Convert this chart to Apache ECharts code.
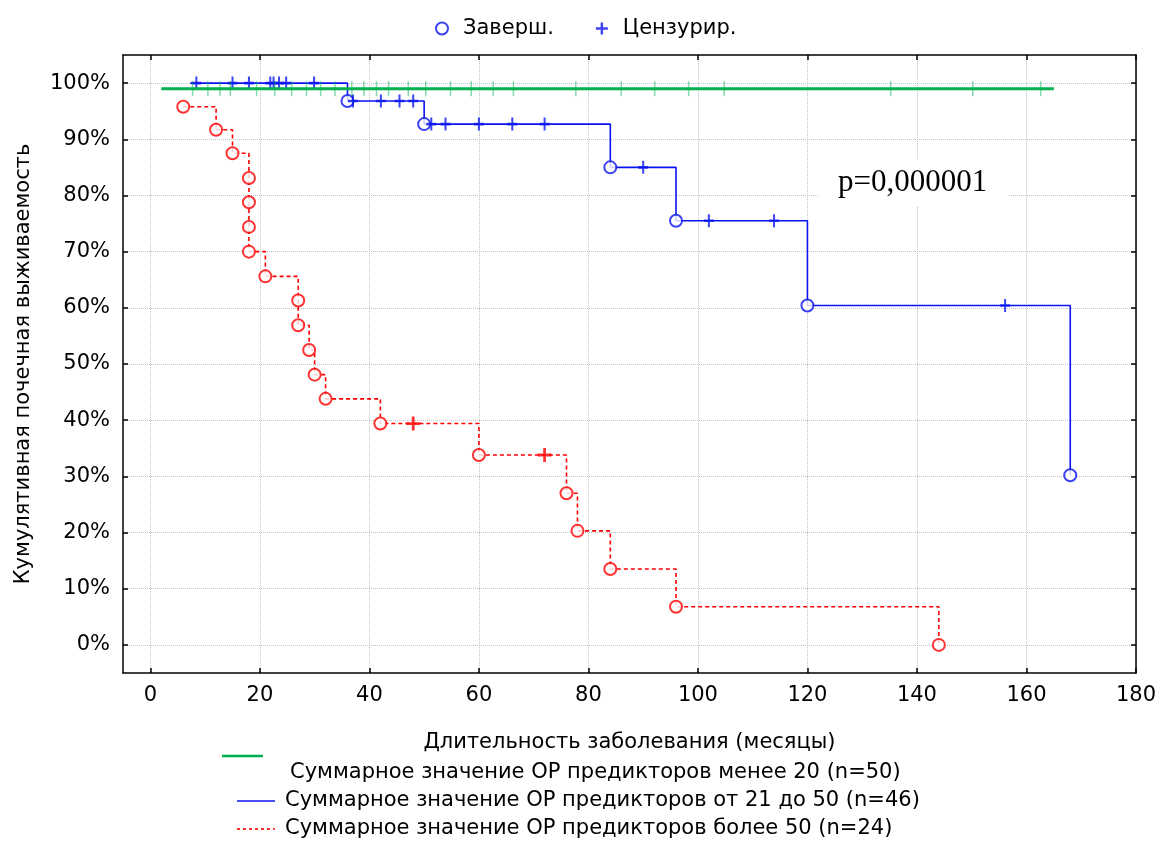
<!DOCTYPE html>
<html>
<head>
<meta charset="utf-8">
<script src="https://cdn.jsdelivr.net/npm/echarts@6/dist/echarts.min.js"></script>
<style>
  html, body { margin: 0; padding: 0; background: #fff; }
  #chart { width: 1159px; height: 846px; }
</style>
</head>
<body>
<div id="chart"></div>
<script>
// оси
const xTicks = [0, 20, 40, 60, 80, 100, 120, 140, 160, 180];
const yTicks = [0, 10, 20, 30, 40, 50, 60, 70, 80, 90, 100];

// группа < 20 (зелёная)
const greenStartEnd = [2, 165];
const greenLevel = 99;
const greenCensTimes = [7.7, 10.5, 12.7, 14.6, 19.4, 22.7, 25.8, 28.5, 31.1, 33.7, 36.8, 39.0, 41.3, 43.5,
  47.1, 50.3, 54.8, 58.6, 62.6, 66.3, 77.7, 86.0, 92.1, 98.3, 104.8, 135.2, 150.2, 162.6];

// группа 21-50 (синяя)
const blueStart = [7.3, 100];
const blueEventTimes = [36, 50, 84, 96, 120, 168];
const blueEventSurv = [96.8, 92.7, 85.0, 75.5, 60.4, 30.2];
const blueCensTimes = [8.4, 15.0, 18.0, 21.9, 22.5, 23.5, 24.8, 29.9, 37.0, 42.1, 45.5, 48.0,
  51.3, 53.9, 60.0, 66.1, 72.0, 90.0, 102.0, 113.9, 156.1];
const blueCensSurv = [100, 100, 100, 100, 100, 100, 100, 100, 96.8, 96.8, 96.8, 96.8,
  92.7, 92.7, 92.7, 92.7, 92.7, 85.0, 75.5, 75.5, 60.4];

// группа > 50 (красная)
const redEventTimes = [6, 12, 15, 18, 18, 18, 18, 21, 27, 27, 29, 30, 32, 42, 60, 76, 78, 84, 96, 144];
const redEventSurv = [95.8, 91.7, 87.5, 83.1, 78.8, 74.4, 70.0, 65.6, 61.3, 56.9, 52.5, 48.1, 43.8, 39.4,
  33.8, 27.0, 20.3, 13.5, 6.8, 0];
const redCensTimes = [48, 72];
const redCensSurv = [39.4, 33.8];

const names = {
  done: 'Заверш.',
  cens: 'Цензурир.',
  green: 'Суммарное значение ОР предикторов менее 20 (n=50)',
  blue: 'Суммарное значение ОР предикторов от 21 до 50 (n=46)',
  red: 'Суммарное значение ОР предикторов более 50 (n=24)'
};

const FONT = '"DejaVu Sans", "Liberation Sans", Arial, sans-serif';
const FS = 21;
const BLUE = '#0a14f0';
const RED = '#ff0000';
const GREEN = '#00b050';
const PLUS = 'path://M4,0 L6,0 L6,4 L10,4 L10,6 L6,6 L6,10 L4,10 L4,6 L0,6 L0,4 L4,4 Z';

function pairs(ts, ss) {
  return ts.map((t, i) => [t, ss[i]]);
}

// ступенчатая кривая: события + цензурированные, по времени
function kmLine(start, evT, evS, cT, cS) {
  const pts = [];
  if (start) pts.push(start);
  pairs(evT, evS).forEach(p => pts.push(p));
  pairs(cT, cS).forEach(p => pts.push(p));
  return pts.sort((a, b) => a[0] - b[0]);
}

const chart = echarts.init(document.getElementById('chart'));

function valueAxis(pos, isX, main) {
  const ticks = isX ? xTicks : yTicks;
  return {
    type: 'value',
    position: pos,
    min: -5,
    max: isX ? 180 : 105,
    axisLine: { show: true, onZero: false, lineStyle: { color: '#000', width: 1.5 } },
    axisTick: { show: true, inside: true, length: 5, customValues: ticks, lineStyle: { color: '#000', width: 1.5 } },
    axisLabel: main ? {
      show: true,
      customValues: ticks,
      formatter: isX ? '{value}' : '{value}%',
      fontFamily: FONT, fontSize: FS, color: '#000',
      margin: isX ? 12 : 13
    } : { show: false },
    splitLine: main ? { show: true, lineStyle: { color: '#c4c4c4', type: 'dotted', width: 1 } } : { show: false }
  };
}

const xMain = valueAxis('bottom', true, true);
xMain.name = 'Длительность заболевания (месяцы)';
xMain.nameLocation = 'middle';
xMain.nameGap = 59;
xMain.nameTextStyle = { fontFamily: FONT, fontSize: FS, color: '#000' };

const yMain = valueAxis('left', false, true);
yMain.name = 'Кумулятивная почечная выживаемость';
yMain.nameLocation = 'middle';
yMain.nameGap = 89;
yMain.nameTextStyle = { fontFamily: FONT, fontSize: FS, color: '#000' };

// нижняя легенда (как в Statistica)
const legendFont = FS + 'px ' + FONT;
const bottomLegend = [
  { type: 'line', shape: { x1: 222, y1: 756, x2: 263, y2: 756 }, style: { stroke: GREEN, lineWidth: 2.5 } },
  { type: 'text', x: 290, y: 773, style: { text: names.green, font: legendFont, fill: '#000', verticalAlign: 'middle' } },
  { type: 'line', shape: { x1: 237, y1: 801, x2: 275, y2: 801 }, style: { stroke: BLUE, lineWidth: 1.6 } },
  { type: 'text', x: 285, y: 801, style: { text: names.blue, font: legendFont, fill: '#000', verticalAlign: 'middle' } },
  { type: 'line', shape: { x1: 237, y1: 829, x2: 275, y2: 829 }, style: { stroke: RED, lineWidth: 1.6, lineDash: [3, 3] } },
  { type: 'text', x: 285, y: 829, style: { text: names.red, font: legendFont, fill: '#000', verticalAlign: 'middle' } }
];

const option = {
  animation: false,
  backgroundColor: '#fff',
  grid: { left: 123, right: 23, top: 55, bottom: 173, show: false },
  xAxis: [xMain, valueAxis('top', true, false)],
  yAxis: [yMain, valueAxis('right', false, false)],
  legend: {
    data: [names.done, names.cens],
    left: 430, top: 13,
    itemWidth: 12, itemHeight: 12, itemGap: 42,
    textStyle: { fontFamily: FONT, fontSize: FS, color: '#000', padding: [0, 0, 0, 10] }
  },
  graphic: bottomLegend.concat([
    {
      type: 'text', x: 818, y: 183, z: 10,
      style: {
        text: 'p=0,000001', font: '31px "Liberation Serif", "Times New Roman", serif', fill: '#000',
        verticalAlign: 'middle',
        backgroundColor: '#fff', padding: [8, 22, 8, 20]
      }
    }
  ]),
  series: [
    {
      name: names.red, type: 'line', step: 'end', symbol: 'none', z: 2,
      data: kmLine(null, redEventTimes, redEventSurv, redCensTimes, redCensSurv),
      lineStyle: { color: RED, width: 1.6, type: [4, 3] },
      itemStyle: { color: RED }
    },
    {
      name: 'red-events', type: 'scatter', symbol: 'circle', symbolSize: 12, z: 3,
      data: pairs(redEventTimes, redEventSurv),
      itemStyle: { color: '#fff', borderColor: RED, borderWidth: 2 }
    },
    {
      name: 'red-cens', type: 'scatter', symbol: PLUS, symbolSize: [14, 14], z: 3,
      data: pairs(redCensTimes, redCensSurv),
      itemStyle: { color: RED }
    },
    {
      name: names.blue, type: 'line', step: 'end', symbol: 'none', z: 4,
      data: kmLine(blueStart, blueEventTimes, blueEventSurv, blueCensTimes, blueCensSurv),
      lineStyle: { color: BLUE, width: 1.6 },
      itemStyle: { color: BLUE }
    },
    {
      name: names.done, type: 'scatter', symbol: 'circle', symbolSize: 12, z: 5,
      data: pairs(blueEventTimes, blueEventSurv),
      itemStyle: { color: '#fff', borderColor: BLUE, borderWidth: 2 }
    },
    {
      name: names.cens, type: 'scatter', symbol: PLUS, symbolSize: [10, 13], z: 5,
      data: pairs(blueCensTimes, blueCensSurv),
      itemStyle: { color: BLUE }
    },
    {
      name: 'green', type: 'line', symbol: 'none', z: 6,
      data: greenStartEnd.map(t => [t, greenLevel]),
      lineStyle: { color: GREEN, width: 3 }
    },
    {
      name: 'green-cens', type: 'scatter', symbol: 'rect', symbolSize: [1.5, 15], z: 6,
      data: greenCensTimes.map(t => [t, greenLevel]),
      itemStyle: { color: 'rgba(0,176,80,0.6)' }
    }
  ]
};

chart.setOption(option);
</script>
</body>
</html>
